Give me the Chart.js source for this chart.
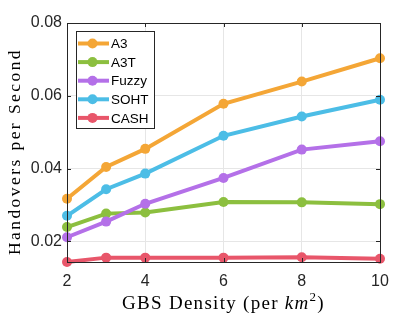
<!DOCTYPE html>
<html>
<head>
<meta charset="utf-8">
<script src="https://cdn.jsdelivr.net/npm/chart.js@4.4.0/dist/chart.umd.min.js"></script>
<style>
  html, body { margin: 0; padding: 0; background: #fff; }
  #wrap { width: 420px; height: 315px; }
</style>
</head>
<body>
<div id="wrap"><canvas id="handoverChart" width="420" height="315"></canvas></div>
<script>
// GBS density values (per km^2)
const densities = [2, 3, 4, 6, 8, 10];

const a3Data    = [0.0317, 0.0404, 0.0454, 0.0578, 0.0639, 0.0703];
const a3tData   = [0.0239, 0.0276, 0.0279, 0.0308, 0.0307, 0.0302];
const fuzzyData = [0.0211, 0.0254, 0.0303, 0.0374, 0.0452, 0.0475];
const sohtData  = [0.0270, 0.0343, 0.0386, 0.0490, 0.0543, 0.0589];
const cashData  = [0.0143, 0.0155, 0.0155, 0.0155, 0.0156, 0.0152];

const seriesNames  = ["A3", "A3T", "Fuzzy", "SOHT", "CASH"];
const seriesValues = [a3Data, a3tData, fuzzyData, sohtData, cashData];
const seriesColors = ["#F4A636", "#8CBF3F", "#B470E8", "#4CBDE6", "#E8566A"];

const xTicks = [2, 4, 6, 8, 10];
const yTicks = [0.02, 0.04, 0.06, 0.08];

const yTitle = "Handovers per Second";
const axisColor = "#262626";
const serif = "'Liberation Serif', 'DejaVu Serif', serif";

const datasets = seriesNames.map((name, i) => ({
    label: name,
    data: densities.map((d, j) => ({ x: d, y: seriesValues[i][j] })),
    borderColor: seriesColors[i],
    backgroundColor: seriesColors[i],
    borderWidth: 4,
    pointRadius: 5,
    pointHoverRadius: 5,
    pointBorderWidth: 0,
    tension: 0,
    clip: false,
    order: seriesNames.length - i,
}));

// frame, inward ticks, legend box and axis titles (MATLAB look)
const decorations = {
    id: "decorations",
    afterDraw(chart) {
        const ctx = chart.ctx;
        const area = chart.chartArea;
        const xs = chart.scales.x;
        const ys = chart.scales.y;
        ctx.save();

        // box
        ctx.strokeStyle = axisColor;
        ctx.lineWidth = 1;
        ctx.strokeRect(Math.round(area.left) + 0.5, Math.round(area.top) + 0.5,
            Math.round(area.right - area.left), Math.round(area.bottom - area.top));

        // inward ticks
        ctx.beginPath();
        xTicks.forEach(v => {
            const px = Math.round(xs.getPixelForValue(v)) + 0.5;
            ctx.moveTo(px, area.bottom); ctx.lineTo(px, area.bottom - 4);
            ctx.moveTo(px, area.top); ctx.lineTo(px, area.top + 4);
        });
        yTicks.forEach(v => {
            const py = Math.round(ys.getPixelForValue(v)) + 0.5;
            ctx.moveTo(area.left, py); ctx.lineTo(area.left + 4, py);
            ctx.moveTo(area.right, py); ctx.lineTo(area.right - 4, py);
        });
        ctx.stroke();

        // legend
        const lx = 76, ly = 31, lw = 78, lh = 97;
        ctx.fillStyle = "#fff";
        ctx.fillRect(lx, ly, lw, lh);
        ctx.strokeStyle = axisColor;
        ctx.strokeRect(lx + 0.5, ly + 0.5, lw, lh);
        ctx.font = "13.5px 'Liberation Sans', Arial, sans-serif";
        ctx.textBaseline = "middle";
        chart.data.datasets.forEach((ds, i) => {
            const cy = ly + 12.5 + i * 18.6;
            ctx.strokeStyle = ds.borderColor;
            ctx.lineWidth = 4;
            ctx.beginPath();
            ctx.moveTo(lx + 2, cy); ctx.lineTo(lx + 33, cy);
            ctx.stroke();
            ctx.fillStyle = ds.borderColor;
            ctx.beginPath();
            ctx.arc(lx + 16.5, cy, 5, 0, Math.PI * 2);
            ctx.fill();
            ctx.fillStyle = "#000";
            ctx.fillText(ds.label, lx + 35, cy + 1);
        });

        // y title: serif spread a little to about 207px (like Computer Modern)
        ctx.fillStyle = "#000";
        ctx.font = "17.5px " + serif;
        ctx.letterSpacing = "0px";
        const yw = ctx.measureText(yTitle).width;
        ctx.letterSpacing = Math.max(0, (207 - yw) / yTitle.length).toFixed(2) + "px";
        const yw2 = ctx.measureText(yTitle).width;
        ctx.save();
        ctx.translate(19.5, 151.5);
        ctx.rotate(-Math.PI / 2);
        ctx.textAlign = "left";
        ctx.textBaseline = "alphabetic";
        ctx.fillText(yTitle, -yw2 / 2, 0);
        ctx.restore();

        // x title: GBS Density (per km^2), spread to about 203px
        const parts = [
            { t: "GBS Density (per ", style: "", size: 19, dy: 0 },
            { t: "km", style: "italic ", size: 19, dy: 0 },
            { t: "2", style: "", size: 13, dy: -7.5 },
            { t: ")", style: "", size: 19, dy: 0 },
        ];
        let chars = 0, w0 = 0;
        ctx.letterSpacing = "0px";
        parts.forEach(p => {
            ctx.font = p.style + p.size + "px " + serif;
            w0 += ctx.measureText(p.t).width;
            chars += p.t.length;
        });
        const spacing = Math.max(0, (203 - w0) / chars);
        ctx.letterSpacing = spacing.toFixed(2) + "px";
        let total = 0;
        parts.forEach(p => {
            ctx.font = p.style + p.size + "px " + serif;
            p.w = ctx.measureText(p.t).width;
            total += p.w;
        });
        let x = (area.left + area.right) / 2 - total / 2;
        ctx.textAlign = "left";
        ctx.textBaseline = "alphabetic";
        parts.forEach(p => {
            ctx.font = p.style + p.size + "px " + serif;
            ctx.fillText(p.t, x, 308.5 + p.dy);
            x += p.w;
        });
        ctx.restore();
    },
};

new Chart(document.getElementById("handoverChart").getContext("2d"), {
    type: "line",
    data: { datasets: datasets },
    options: {
        responsive: false,
        animation: false,
        devicePixelRatio: 1,
        layout: { padding: { top: 23, right: 40, left: 0, bottom: 0 } },
        plugins: {
            legend: { display: false },
            tooltip: { enabled: false },
        },
        scales: {
            x: {
                type: "linear",
                min: 2,
                max: 10,
                afterBuildTicks: scale => { scale.ticks = xTicks.map(v => ({ value: v })); },
                afterFit: scale => { scale.height = 53; },
                grid: { color: "#e6e6e6", drawTicks: false },
                border: { display: false },
                ticks: {
                    padding: 10,
                    color: axisColor,
                    font: { family: "'Liberation Sans', Arial, sans-serif", size: 16 },
                },
            },
            y: {
                min: 0.0143,
                max: 0.08,
                afterBuildTicks: scale => { scale.ticks = yTicks.map(v => ({ value: v })); },
                afterFit: scale => { scale.width = 67; },
                grid: { color: "#e6e6e6", drawTicks: false },
                border: { display: false },
                ticks: {
                    padding: 5,
                    color: axisColor,
                    font: { family: "'Liberation Sans', Arial, sans-serif", size: 16 },
                    callback: v => v.toFixed(2),
                },
            },
        },
    },
    plugins: [decorations],
});
</script>
</body>
</html>
